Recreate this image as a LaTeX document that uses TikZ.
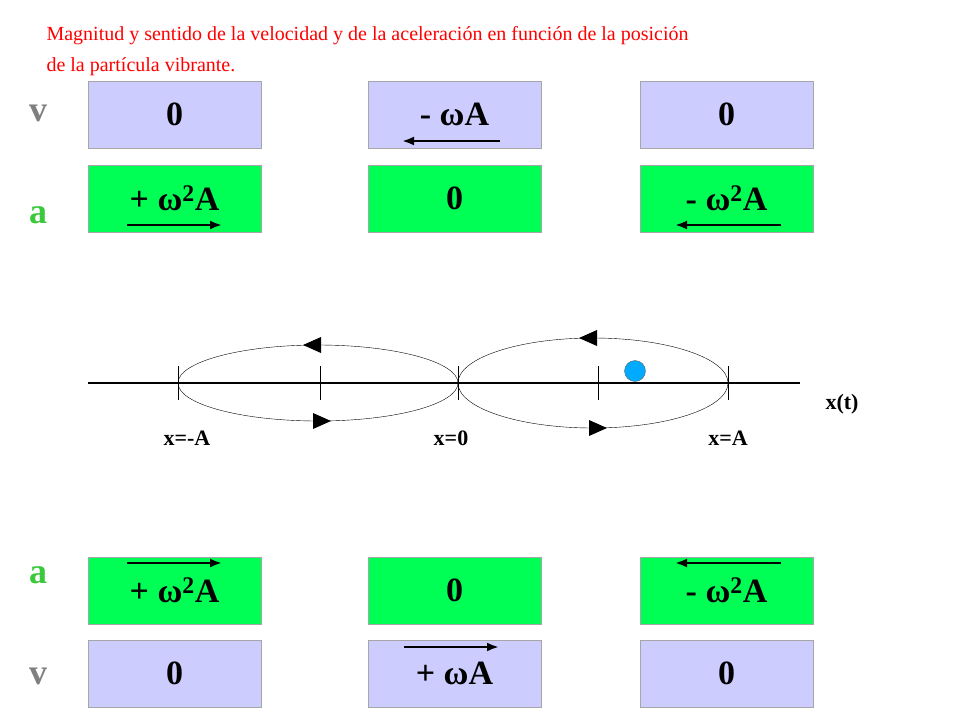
\documentclass[tikz,border=0pt]{standalone}
\usepackage{fontspec}
\setmainfont{Liberation Serif}
\usetikzlibrary{arrows.meta}
\begin{document}
\begin{tikzpicture}[x=1pt,y=-1pt,
 vb/.style={draw=gray!70,fill={rgb,255:red,204;green,204;blue,255},minimum width=173pt,minimum height=67pt,font=\bfseries\fontsize{34}{34}\selectfont},
 ab/.style={vb,fill={rgb,255:red,0;green,255;blue,85}},
 ar/.style={line width=2.5pt,-{Latex[length=12pt,width=9pt]}},
 lab/.style={font=\bfseries\fontsize{22}{22}\selectfont},
 big/.style={font=\bfseries\fontsize{36}{36}\selectfont}]
\useasboundingbox (0,0) rectangle (960,720);
\node[anchor=west,align=left,text=red,font=\fontsize{20}{31}\selectfont] (t) at (43,51) {Magnitud y sentido de la velocidad y de la aceleración en función de la posición\\de la partícula vibrante.};
\node[vb] (v1) at (174.5,114.5) {0};
\node[vb] (v2) at (454.5,114.5) {- ωA};
\node[vb] (v3) at (726.5,114.5) {0};
\node[ab] (a1) at (174.5,198.5) {+ ω\textsuperscript{2}A};
\node[ab] (a2) at (454.5,198.5) {0};
\node[ab] (a3) at (726.5,198.5) {- ω\textsuperscript{2}A};
\node[ab] (b1) at (174.5,590.5) {+ ω\textsuperscript{2}A};
\node[ab] (b2) at (454.5,590.5) {0};
\node[ab] (b3) at (726.5,590.5) {- ω\textsuperscript{2}A};
\node[vb] (w1) at (174.5,673.5) {0};
\node[vb] (w2) at (454.5,673.5) {+ ωA};
\node[vb] (w3) at (726.5,673.5) {0};
\node[big,text=gray] (lv1) at (38,113) {v};
\node[big,text={rgb,255:red,60;green,200;blue,60}] (la1) at (38,215) {a};
\node[big,text={rgb,255:red,60;green,200;blue,60}] (la2) at (38,575) {a};
\node[big,text=gray] (lv2) at (38,676) {v};
\coordinate (p1) at (500,141); \coordinate (p2) at (402,141);
\draw[ar] (p1) -- (p2);
\coordinate (p3) at (127,225); \coordinate (p4) at (222,225);
\draw[ar] (p3) -- (p4);
\coordinate (p5) at (781,225); \coordinate (p6) at (675,225);
\draw[ar] (p5) -- (p6);
\coordinate (p7) at (127,563); \coordinate (p8) at (222,563);
\draw[ar] (p7) -- (p8);
\coordinate (p9) at (781,563); \coordinate (p10) at (675,563);
\draw[ar] (p9) -- (p10);
\coordinate (p11) at (404,647); \coordinate (p12) at (499,647);
\draw[ar] (p11) -- (p12);
% axis
\coordinate (ax0) at (88,383); \coordinate (ax1) at (800,383);
\draw[line width=2.5pt] (ax0) -- (ax1);
\foreach \x in {178,320,458,598,728} \draw[thin] (\x,366) -- (\x,400);
\draw[thin] (318,383) ellipse [x radius=140,y radius=38];
\draw[thin] (593,383) ellipse [x radius=135,y radius=45];
\foreach \x/\y/\d in {312/345/-1,322/421/1,588/338/-1,598/428/1}
  \fill (\x+\d*9,\y) -- (\x-\d*9,\y-8) -- (\x-\d*9,\y+8) -- cycle;
\node[circle,draw=black!60,fill={rgb,255:red,0;green,170;blue,255},minimum size=21pt,inner sep=0] (pt) at (635,371) {};
\node[lab] (xt) at (842,404) {x(t)};
\node[lab] (xm) at (187,438) {x=-A};
\node[lab] (x0) at (451,438) {x=0};
\node[lab] (xa) at (728,438) {x=A};
\end{tikzpicture}
\end{document}
